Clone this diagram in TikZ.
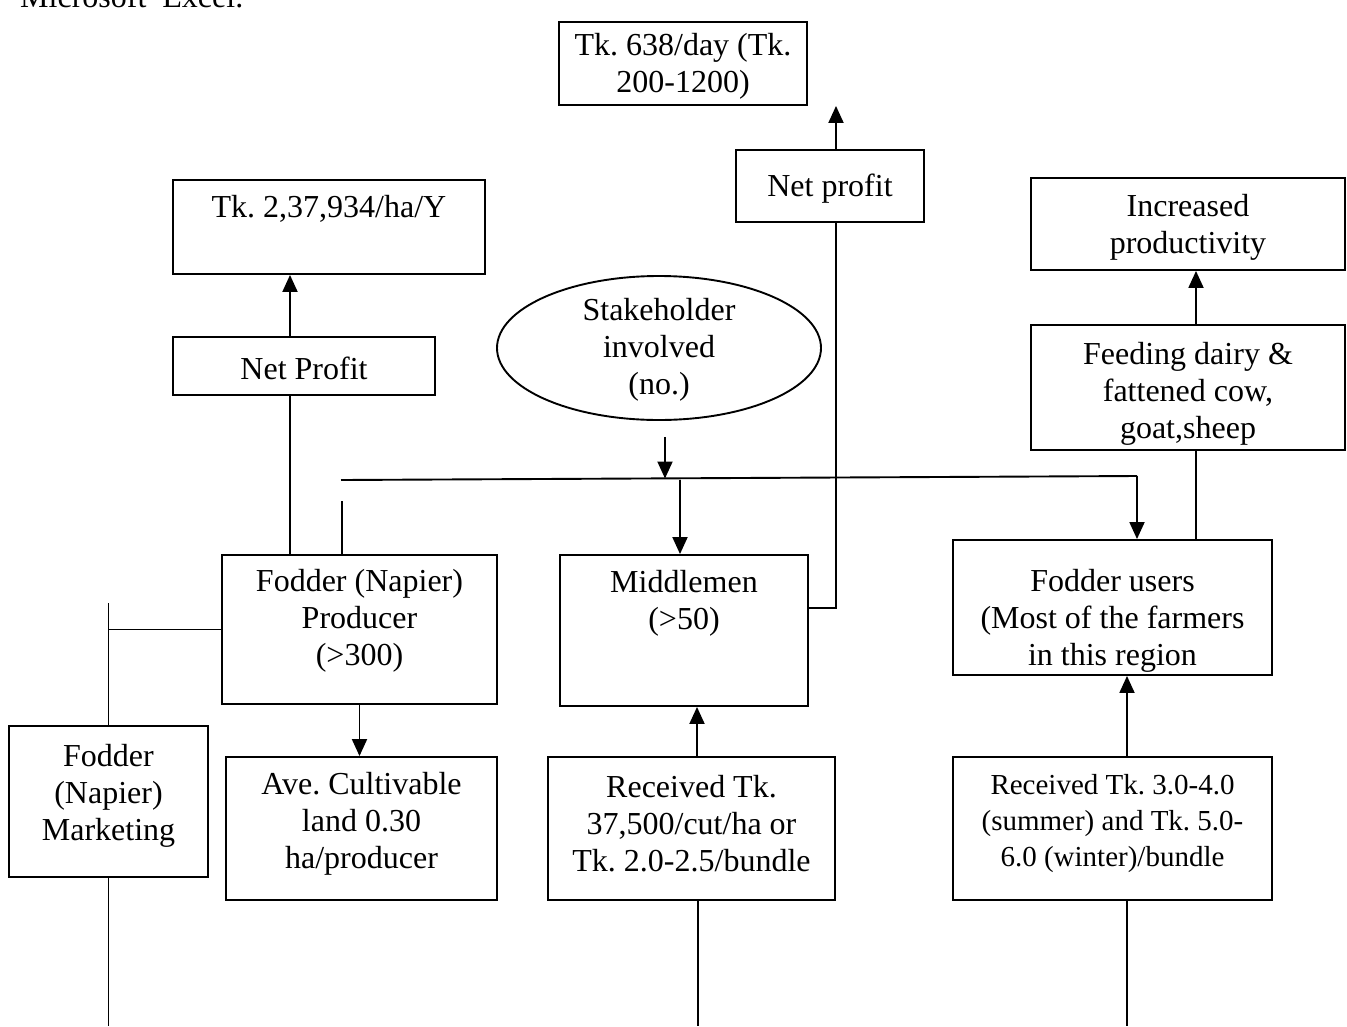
\documentclass[tikz,border=0pt]{standalone}
\usepackage{fontspec}
\setmainfont{Liberation Serif}
\usetikzlibrary{shapes.geometric,arrows.meta,calc}
\frenchspacing
\begin{document}
\begin{tikzpicture}[x=1pt,y=-1pt]
\tikzset{
 box/.style={draw, line width=1.9pt, inner sep=0pt},
 lbl/.style={font=\fontsize{32}{37}\selectfont, align=center, inner sep=0pt},
 slbl/.style={font=\fontsize{29}{36}\selectfont, align=center, inner sep=0pt},
 conn/.style={line width=1.9pt},
 arr/.style={conn, -{Triangle[width=15pt,length=17pt]}},
}
\fill[white] (0,0) rectangle (1347,1026);
\useasboundingbox (0,0) rectangle (1347,1026);
\coordinate (bot) at (0,1026);

\node[lbl, anchor=base west] (excel) at (20,7) {Microsoft\ \ Excel.};

% boxes
\node[box, minimum width=248pt, minimum height=83pt] (top) at (683,63.5) {};
\node[box, minimum width=188pt, minimum height=72pt] (netM) at (830,186) {};
\node[box, minimum width=312pt, minimum height=94pt] (tk) at (329,227) {};
\node[box, minimum width=262pt, minimum height=58pt] (netL) at (304,366) {};
\node[box, ellipse, minimum width=324pt, minimum height=144pt] (ell) at (659,348) {};
\node[box, minimum width=314pt, minimum height=92pt] (inc) at (1188,224) {};
\node[box, minimum width=314pt, minimum height=125pt] (feed) at (1188,387.5) {};
\node[box, minimum width=275pt, minimum height=149pt] (prod) at (359.5,629.5) {};
\node[box, minimum width=248pt, minimum height=151pt] (mid) at (684,630.5) {};
\node[box, minimum width=319pt, minimum height=135pt] (users) at (1112.5,607.5) {};
\node[box, minimum width=199pt, minimum height=151pt] (mkt) at (108.5,801.5) {};
\node[box, minimum width=271pt, minimum height=143pt] (ave) at (361.5,828.5) {};
\node[box, minimum width=287pt, minimum height=143pt] (rec1) at (691.5,828.5) {};
\node[box, minimum width=319pt, minimum height=143pt] (rec2) at (1112.5,828.5) {};

% texts
\node[lbl] (top-t) at (683,66) {Tk. 638/day (Tk.\\200-1200)};
\node[lbl] (netM-t) at (830,189) {Net profit};
\node[lbl] (tk-t) at (329,209) {Tk. 2,37,934/ha/Y};
\node[lbl] (netL-t) at (304,368) {Net Profit};
\node[lbl] (ell-t) at (659,350) {Stakeholder\\involved\\(no.)};
\node[lbl] (inc-t) at (1188,227.5) {Increased\\productivity};
\node[lbl] (feed-t) at (1188,394) {Feeding dairy \&\\fattened cow,\\goat,sheep};
\node[lbl] (prod-t) at (359.5,621) {Fodder (Napier)\\Producer\\(>300)};
\node[lbl] (mid-t) at (684,603) {Middlemen\\(>50)};
\node[lbl] (users-t) at (1112.5,621) {Fodder users\\(Most of the farmers\\in this region};
\node[lbl] (mkt-t) at (108.5,796) {Fodder\\(Napier)\\Marketing};
\node[lbl] (ave-t) at (361.5,824) {Ave. Cultivable\\land 0.30\\ha/producer};
\node[lbl] (rec1-t) at (691.5,824) {Received Tk.\\37,500/cut/ha or\\Tk. 2.0-2.5/bundle};
\node[slbl] (rec2-t) at (1112.5,824) {Received Tk. 3.0-4.0\\(summer) and Tk. 5.0-\\6.0 (winter)/bundle};

% connectors
\draw[arr] ([xshift=6pt]netM.north) -- ([xshift=6pt]netM.north |- top.south);
\draw[conn] ([xshift=6pt]netM.south) |- ([yshift=22.5pt]mid.east);
\draw[arr] ([xshift=-14pt]netL.north) -- ([xshift=-14pt]netL.north |- tk.south);
\draw[conn] ([xshift=-14pt]netL.south) -- ([xshift=-14pt]netL.south |- prod.north);

\coordinate (hl) at (341,480);
\coordinate (hr) at (1137,476);
\draw[conn] (hl) -- (hr);
\draw[arr] ([xshift=6pt,yshift=-16pt]ell.south) -- ([xshift=6pt,yshift=1.5pt]ell.south |- hl);
\draw[arr] (hr) -- (hr |- users.north);
\draw[arr] ([xshift=-4pt]mid.north |- hl) -- ([xshift=-4pt]mid.north);
\draw[conn] ([xshift=-17.5pt,yshift=53pt]prod.north) -- ([xshift=-17.5pt]prod.north);

\draw[conn] ([xshift=8pt]feed.south) -- ([xshift=8pt]feed.south |- users.north);
\draw[arr] ([xshift=8pt]feed.north) -- ([xshift=8pt]feed.north |- inc.south);

\draw[conn] (prod.west) -- (prod.west -| mkt.north);
\draw[conn] ([yshift=122pt]mkt.north) -- (mkt.north);
\draw[conn] (mkt.south) -- (mkt.south |- bot);

\draw[arr] (prod.south) -- (prod.south |- ave.north);
\draw[arr] ([xshift=5.5pt]rec1.north) -- ([xshift=5.5pt]rec1.north |- mid.south);
\draw[conn] ([xshift=6.5pt]rec1.south) -- ([xshift=6.5pt]rec1.south |- bot);
\draw[arr] ([xshift=14.5pt]rec2.north) -- ([xshift=14.5pt]rec2.north |- users.south);
\draw[conn] ([xshift=14.5pt]rec2.south) -- ([xshift=14.5pt]rec2.south |- bot);
\end{tikzpicture}
\end{document}
